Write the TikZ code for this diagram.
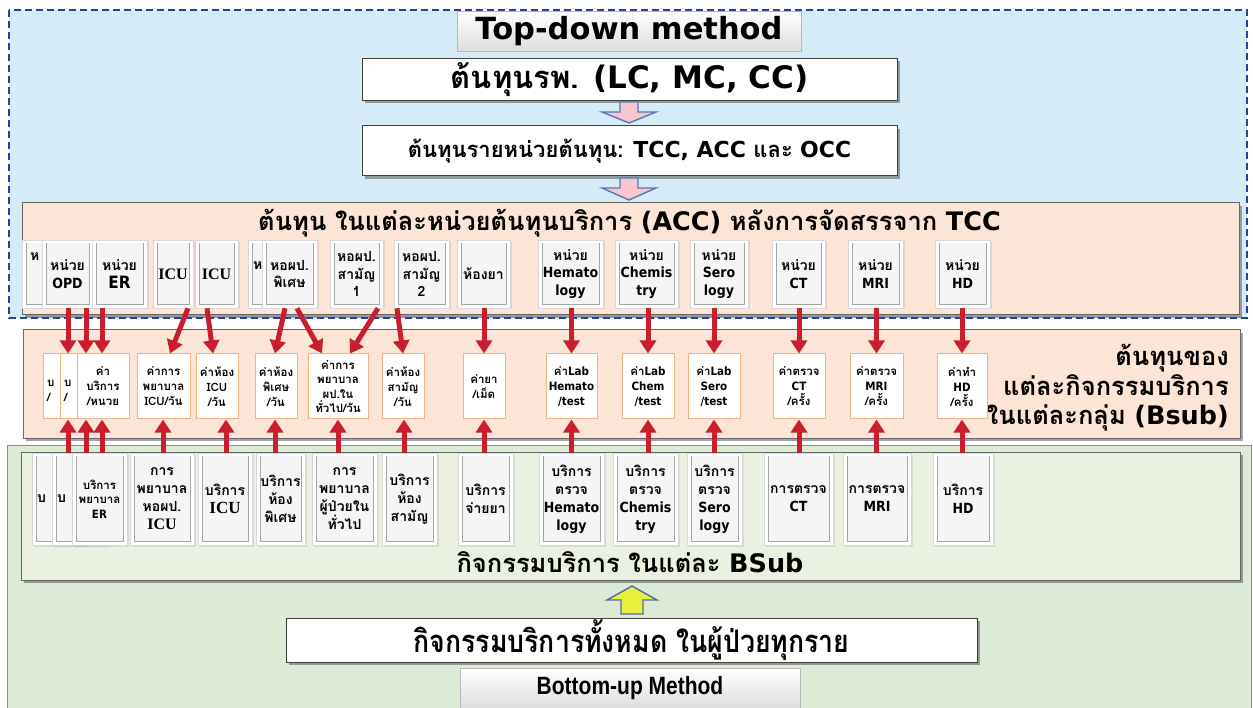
\documentclass[tikz,border=0pt]{standalone}
\usepackage{fontspec}
\newfontfamily\thai{Loma}[Script=Thai]
\newfontfamily\thaic{Loma}[Script=Thai,FakeStretch=0.86]
\newfontfamily\serifb{Liberation Serif}
\newfontfamily\lat{DejaVu Sans}
\newfontfamily\latn{DejaVu Sans}[FakeStretch=0.9]
\newfontfamily\narrowb{Liberation Sans}[FakeStretch=0.84]
\newcommand\la[1]{{\latn\bfseries #1}}
\newcommand\lh[1]{{\lat\bfseries #1}}
\usetikzlibrary{arrows.meta,shadows}
\definecolor{bluebg}{RGB}{214,235,248}
\definecolor{navyd}{RGB}{46,64,150}
\definecolor{peach}{RGB}{252,228,214}
\definecolor{greenbg}{RGB}{220,235,214}
\definecolor{greenin}{RGB}{235,241,224}
\definecolor{redc}{RGB}{200,30,45}
\definecolor{orangeb}{RGB}{244,177,131}
\definecolor{pinkf}{RGB}{249,198,207}
\definecolor{arrowline}{RGB}{84,122,176}
\definecolor{yellowf}{RGB}{232,240,60}
\newcommand\myufont{\thai\bfseries\fontsize{14}{17.5}\selectfont}
\newcommand\mycfont{\thai\bfseries\fontsize{11.5}{15}\selectfont}
\newcommand\mysfont{\thai\bfseries\fontsize{14}{18}\selectfont}
\newcommand\myicu{\serifb\bfseries\fontsize{16}{18}\selectfont}
\tikzset{
 panel/.style={draw=black!60, line width=1pt, drop shadow={shadow xshift=3pt, shadow yshift=-3pt, opacity=0.5, fill=black!70}},
 whitebox/.style={draw=black!75, fill=white, line width=1pt, inner sep=0pt, drop shadow={shadow xshift=3pt, shadow yshift=-3pt, opacity=0.5, fill=black!70}},
 graybox/.style={draw=black!28, line width=0.8pt, top color=white, bottom color=black!13, inner sep=0pt},
 cardbase/.style={rectangle, inner sep=0pt, align=center, fill=white, draw=black!15, line width=0.6pt,
   drop shadow={shadow xshift=1.5pt, shadow yshift=-1.5pt, opacity=0.18},
   path picture={
     \fill[black!4] ([shift={(4pt,4pt)}]path picture bounding box.south west) rectangle ([shift={(-4pt,-3pt)}]path picture bounding box.north east);
     \draw[black!35, line width=0.9pt] ([shift={(4pt,-3pt)}]path picture bounding box.north west) -- ([shift={(4pt,4pt)}]path picture bounding box.south west) -- ([shift={(-4pt,4pt)}]path picture bounding box.south east) -- ([shift={(-4pt,-3pt)}]path picture bounding box.north east);
   }},
 unitcard/.style={cardbase, minimum height=68pt, font=\myufont},
 servcard/.style={cardbase, minimum height=92pt, font=\mysfont},
 costcard/.style={rectangle, inner sep=0pt, align=center, fill=white, draw=orangeb, line width=1pt, minimum height=65pt, font=\mycfont},
 redarrow/.style={draw=redc, line width=5pt, -{Triangle[width=16pt,length=13pt]}},
 blockarrow/.style={draw=arrowline, line width=1.4pt, line join=miter},
 biglabel/.style={font=\thai\bfseries\fontsize{25.5}{29.5}\selectfont, inner sep=0pt}
}
\begin{document}
\begin{tikzpicture}[x=1pt,y=-1pt]
\useasboundingbox (0,0) rectangle (1253,708);
\fill[white] (0,0) rectangle (1253,708);
% regions
\path[fill=greenbg, draw=black!45, line width=0.8pt] (7,445) rectangle (1251,712);
\fill[bluebg] (9,10) rectangle (1247,318);
% top part
\node[graybox, minimum width=344pt, minimum height=40pt, font=\lat\bfseries\fontsize{30.5}{33}\selectfont] (title) at (629,31) {Top-down method};
\node[whitebox, minimum width=535pt, minimum height=42pt, font=\thai\bfseries\fontsize{31}{33}\selectfont] (lc) at (629.5,79.5) {ต้นทุนรพ. \lh{(LC, MC, CC)}};
\node[whitebox, minimum width=535pt, minimum height=50pt, font=\thai\bfseries\fontsize{22}{24}\selectfont] (tcc) at (629.5,151) {ต้นทุนรายหน่วยต้นทุน: \lh{TCC, ACC} และ \lh{OCC}};
\draw[blockarrow, fill=pinkf] (620,102) -- (638,102) -- (638,112) -- (656,112) -- (629,123) -- (602,112) -- (620,112) -- cycle;
\draw[blockarrow, fill=pinkf] (620,178) -- (638,178) -- (638,188) -- (656,188) -- (629,200) -- (602,188) -- (620,188) -- cycle;
% ACC panel
\node[panel, fill=peach, minimum width=1217pt, minimum height=112pt] (acc) at (630.5,259) {};
\node[biglabel] (accT) at (629.5,223) {ต้นทุน ในแต่ละหน่วยต้นทุนบริการ \lh{(ACC)} หลังการจัดสรรจาก \lh{TCC}};
\draw[navyd, line width=1.6pt, dash pattern=on 7pt off 4pt] (9,10) rectangle (1247,318);
% unit cards
\node[unitcard, minimum width=40pt, text width=24pt, align=left] (uA) at (42,274) {ห\\~\\~};
\node[unitcard, minimum width=51pt] (uOPD) at (67.5,274) {หน่วย\\\la{OPD}};
\node[unitcard, minimum width=55pt] (uER) at (119.5,274) {หน่วย\\{\latn\bfseries\fontsize{17}{19}\selectfont ER}};
\node[unitcard, minimum width=40pt, font=\myicu] (uICU1) at (173,274) {ICU};
\node[unitcard, minimum width=43pt, font=\myicu] (uICU2) at (216.5,274) {ICU};
\node[unitcard, minimum width=52pt, text width=42pt, align=left] (uWb) at (274,274) {ห\\~};
\node[unitcard, minimum width=55pt] (uW) at (289.5,274) {หอผป.\\พิเศษ};
\node[unitcard, minimum width=53pt] (uG1) at (356.5,274) {หอผป.\\สามัญ\\1};
\node[unitcard, minimum width=55pt] (uG2) at (421.5,274) {หอผป.\\สามัญ\\2};
\node[unitcard, minimum width=53pt] (uDrug) at (483.5,274) {ห้องยา};
\node[unitcard, minimum width=65pt] (uHem) at (570.5,274) {หน่วย\\\la{Hemato}\\\la{logy}};
\node[unitcard, minimum width=63pt] (uChem) at (646.5,274) {หน่วย\\\la{Chemis}\\\la{try}};
\node[unitcard, minimum width=58pt] (uSero) at (719,274) {หน่วย\\\la{Sero}\\\la{logy}};
\node[unitcard, minimum width=53pt] (uCT) at (798.5,274) {หน่วย\\\la{CT}};
\node[unitcard, minimum width=55pt] (uMRI) at (875.5,274) {หน่วย\\\la{MRI}};
\node[unitcard, minimum width=55pt] (uHD) at (962.5,274) {หน่วย\\\la{HD}};
% Bsub cost panel
\node[panel, fill=peach, minimum width=1217pt, minimum height=108pt] (bsub) at (631.5,384) {};
\node[biglabel, anchor=east, align=right] (bsubT) at (1229,388) {ต้นทุนของ\\แต่ละกิจกรรมบริการ\\ในแต่ละกลุ่ม \lh{(Bsub)}};
\node[costcard, minimum width=52pt, text width=44pt, align=left] (c1) at (69,386.5) {~\\บ\\/};
\node[costcard, minimum width=52pt, text width=44pt, align=left] (c2) at (86,386.5) {~\\บ\\/};
\node[costcard, minimum width=52pt] (c3) at (103,386.5) {ค่า\\บริการ\\/หนวย};
\node[costcard, minimum width=53pt] (cNurICU) at (163.5,386.5) {ค่าการ\\พยาบาล\\ICU/วัน};
\node[costcard, minimum width=42pt] (cICU) at (217,386.5) {ค่าห้อง\\ICU\\/วัน};
\node[costcard, minimum width=42pt] (cWard) at (276,386.5) {ค่าห้อง\\พิเศษ\\/วัน};
\node[costcard, minimum width=60pt, font=\thai\bfseries\fontsize{11.5}{14.5}\selectfont] (cNurIPD) at (338,386.5) {ค่าการ\\พยาบาล\\ผป.ใน\\ทั่วไป/วัน};
\node[costcard, minimum width=42pt] (cGen) at (403,386.5) {ค่าห้อง\\สามัญ\\/วัน};
\node[costcard, minimum width=42pt] (cDrug) at (484,386.5) {ค่ายา\\/เม็ด};
\node[costcard, minimum width=51pt] (cHem) at (571.5,386.5) {ค่า\la{Lab}\\\la{Hemato}\\\la{/test}};
\node[costcard, minimum width=52pt] (cChem) at (648,386.5) {ค่า\la{Lab}\\\la{Chem}\\\la{/test}};
\node[costcard, minimum width=52pt] (cSero) at (714,386.5) {ค่า\la{Lab}\\\la{Sero}\\\la{/test}};
\node[costcard, minimum width=52pt] (cCT) at (799,386.5) {ค่าตรวจ\\\la{CT}\\/ครั้ง};
\node[costcard, minimum width=53pt] (cMRI) at (876.5,386.5) {ค่าตรวจ\\\la{MRI}\\/ครั้ง};
\node[costcard, minimum width=50pt] (cHD) at (962,386.5) {ค่าทำ\\\la{HD}\\/ครั้ง};
% BSub activity panel
\node[panel, fill=greenin, minimum width=1219pt, minimum height=128pt] (act) at (630.5,516) {};
\node[biglabel] (actT) at (630,562) {กิจกรรมบริการ ในแต่ละ \lh{BSub}};
\node[servcard, minimum width=55pt, text width=45pt, align=left] (s1) at (59.5,499) {บ};
\node[servcard, minimum width=55pt, text width=45pt, align=left] (s2) at (79.5,499) {บ};
\node[servcard, minimum width=55pt, font=\thai\bfseries\fontsize{11.5}{14.5}\selectfont] (s3) at (99.5,499) {บริการ\\พยาบาล\\\la{ER}};
\node[servcard, minimum width=64pt] (sNurICU) at (162,499) {การ\\พยาบาล\\หอผป.\\{\myicu ICU}};
\node[servcard, minimum width=54pt] (sICU) at (225,499) {บริการ\\{\serifb\bfseries\fontsize{17}{19}\selectfont ICU}};
\node[servcard, minimum width=49pt] (sWard) at (280.5,499) {บริการ\\ห้อง\\พิเศษ};
\node[servcard, minimum width=65pt] (sNurIPD) at (344.5,499) {การ\\พยาบาล\\ผู้ป่วยใน\\ทั่วไป};
\node[servcard, minimum width=55pt] (sGen) at (409.5,499) {บริการ\\ห้อง\\สามัญ};
\node[servcard, minimum width=55pt] (sDrug) at (485.5,499) {บริการ\\จ่ายยา};
\node[servcard, minimum width=65pt] (sHem) at (571.5,499) {บริการ\\ตรวจ\\\la{Hemato}\\\la{logy}};
\node[servcard, minimum width=65pt] (sChem) at (645.5,499) {บริการ\\ตรวจ\\\la{Chemis}\\\la{try}};
\node[servcard, minimum width=55pt] (sSero) at (714.5,499) {บริการ\\ตรวจ\\\la{Sero}\\\la{logy}};
\node[servcard, minimum width=69pt] (sCT) at (798.5,499) {การตรวจ\\\la{CT}};
\node[servcard, minimum width=68pt] (sMRI) at (877,499) {การตรวจ\\\la{MRI}};
\node[servcard, minimum width=60pt] (sHD) at (963,499) {บริการ\\\la{HD}};
% bottom part
\draw[blockarrow, draw=navyd!80, fill=yellowf] (621,614) -- (643,614) -- (643,600) -- (657,600) -- (632,586) -- (607,600) -- (621,600) -- cycle;
\node[whitebox, minimum width=691pt, minimum height=44pt, font=\thaic\bfseries\fontsize{31}{33}\selectfont] (all) at (631.5,640) {กิจกรรมบริการทั้งหมด ในผู้ป่วยทุกราย};
\node[graybox, minimum width=340pt, minimum height=40pt, font=\narrowb\bfseries\fontsize{25}{27}\selectfont] (bu) at (630,688) {Bottom-up Method};
% red arrows: unit -> cost
\draw[redarrow] ([xshift=0.5pt]uOPD.south) -- ([xshift=-1pt]c1.north);
\draw[redarrow] ([xshift=18.5pt]uOPD.south) -- (c2.north);
\draw[redarrow] ([xshift=-17.5pt]uER.south) -- ([xshift=-1pt]c3.north);
\draw[redarrow] ([xshift=15pt]uICU1.south) -- ([xshift=6.5pt]cNurICU.north);
\draw[redarrow] ([xshift=-9.5pt]uICU2.south) -- ([xshift=-4pt]cICU.north);
\draw[redarrow] ([xshift=-4.5pt]uW.south) -- ([xshift=-1pt]cWard.north);
\draw[redarrow] ([xshift=7.5pt]uW.south) -- ([xshift=-16pt]cNurIPD.north);
\draw[redarrow] ([xshift=21.5pt]uG1.south) -- ([xshift=12pt]cNurIPD.north);
\draw[redarrow] ([xshift=-24.5pt]uG2.south) -- (cGen.north);
\draw[redarrow] (cDrug.north |- uDrug.south) -- (cDrug.north);
\draw[redarrow] (cHem.north |- uHem.south) -- (cHem.north);
\draw[redarrow] (cChem.north |- uChem.south) -- (cChem.north);
\draw[redarrow] (cSero.north |- uSero.south) -- (cSero.north);
\draw[redarrow] (cCT.north |- uCT.south) -- (cCT.north);
\draw[redarrow] (cMRI.north |- uMRI.south) -- (cMRI.north);
\draw[redarrow] (cHD.north |- uHD.south) -- (cHD.north);
% red arrows: service -> cost
\draw[redarrow] ([xshift=8.5pt]s1.north) -- ([xshift=-1pt]c1.south);
\draw[redarrow] ([xshift=6.5pt]s2.north) -- (c2.south);
\draw[redarrow] ([xshift=2.5pt]s3.north) -- ([xshift=-1pt]c3.south);
\draw[redarrow] ([xshift=1pt]sNurICU.north) -- ([xshift=-0.5pt]cNurICU.south);
\draw[redarrow] ([xshift=1pt]sICU.north) -- ([xshift=9pt]cICU.south);
\draw[redarrow] ([xshift=-5.5pt]sWard.north) -- ([xshift=-1pt]cWard.south);
\draw[redarrow] ([xshift=-6.5pt]sNurIPD.north) -- (cNurIPD.south);
\draw[redarrow] ([xshift=-5.5pt]sGen.north) -- ([xshift=1pt]cGen.south);
\draw[redarrow] ([xshift=-1.5pt]sDrug.north) -- (cDrug.south);
\draw[redarrow] (cHem.south |- sHem.north) -- (cHem.south);
\draw[redarrow] (cChem.south |- sChem.north) -- (cChem.south);
\draw[redarrow] (cSero.south |- sSero.north) -- (cSero.south);
\draw[redarrow] (cCT.south |- sCT.north) -- (cCT.south);
\draw[redarrow] (cMRI.south |- sMRI.north) -- (cMRI.south);
\draw[redarrow] (cHD.south |- sHD.north) -- (cHD.south);
\end{tikzpicture}
\end{document}
